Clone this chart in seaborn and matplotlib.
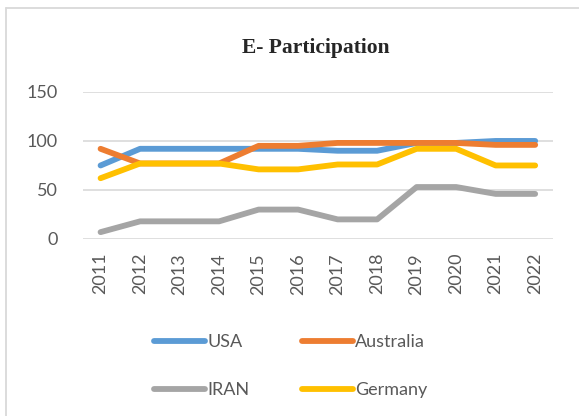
import pandas as pd
import numpy as np
import matplotlib
matplotlib.use("Agg")
import matplotlib.pyplot as plt
import seaborn as sns

years = [str(y) for y in range(2011, 2023)]
usa = [75, 92, 92, 92, 92, 92, 90, 90, 98, 98, 100, 100]
australia = [92, 77, 77, 77, 95, 95, 98, 98, 98, 98, 96, 96]
iran = [7, 18, 18, 18, 30, 30, 20, 20, 53, 53, 46, 46]
germany = [62, 77, 77, 77, 71, 71, 76, 76, 92, 92, 75, 75]

countries = ["USA", "Australia", "IRAN", "Germany"]
colors = ["#5B9BD5", "#ED7D31", "#A5A5A5", "#FFC000"]

df = pd.DataFrame({"Year": years, "USA": usa, "Australia": australia,
                   "IRAN": iran, "Germany": germany})
long_df = df.melt(id_vars="Year", var_name="Country", value_name="Score")

sns.set_theme(style="white")
plt.rcParams['font.family'] = ['Lato', 'DejaVu Sans']

fig = plt.figure(figsize=(5.79, 4.16), dpi=100)
ax = fig.add_axes([0.143, 0.4255, 0.812, 0.3535])

sns.lineplot(data=long_df, x="Year", y="Score", hue="Country",
             hue_order=countries, palette=colors, linewidth=4.2,
             sort=False, ax=ax, legend=False)

ax.set_ylim(0, 150)
ax.set_yticks([0, 50, 100, 150])
ax.set_xlim(-0.45, 11.45)
ax.yaxis.grid(True, color="#D9D9D9", linewidth=1.2)
ax.set_axisbelow(True)
for s in ax.spines.values():
    s.set_visible(False)
ax.set_xlabel("")
ax.set_ylabel("")
ax.tick_params(axis="y", labelsize=13, labelcolor="#595959", pad=18, length=0)
ax.tick_params(axis="x", labelsize=13, labelcolor="#595959", pad=10,
               length=0, labelrotation=90)

fig.text(0.545, 0.885, "E- Participation", ha="center", va="center",
         fontsize=15.5, fontweight="bold", family="Liberation Serif")

# legend is filled column by column, so order handles to read row-wise
order = [0, 2, 1, 3]
handles = [plt.Line2D([], [], color=colors[i], linewidth=4.2,
                      solid_capstyle="round") for i in order]
labels = [countries[i] for i in order]
fig.legend(handles, labels, loc="center", bbox_to_anchor=(0.502, 0.12),
           ncol=2, frameon=False, fontsize=13, handlelength=2.85,
           handletextpad=0.1, columnspacing=2.9, labelspacing=1.75,
           labelcolor="#595959")

# light chart frame
fig.add_artist(plt.Line2D([0.011, 0.011], [0.98, 0.0], color="#D9D9D9",
                          linewidth=1.3, transform=fig.transFigure))
fig.add_artist(plt.Line2D([0.011, 1.0], [0.98, 0.98], color="#D9D9D9",
                          linewidth=1.3, transform=fig.transFigure))

fig.savefig("out.png", dpi=100)
